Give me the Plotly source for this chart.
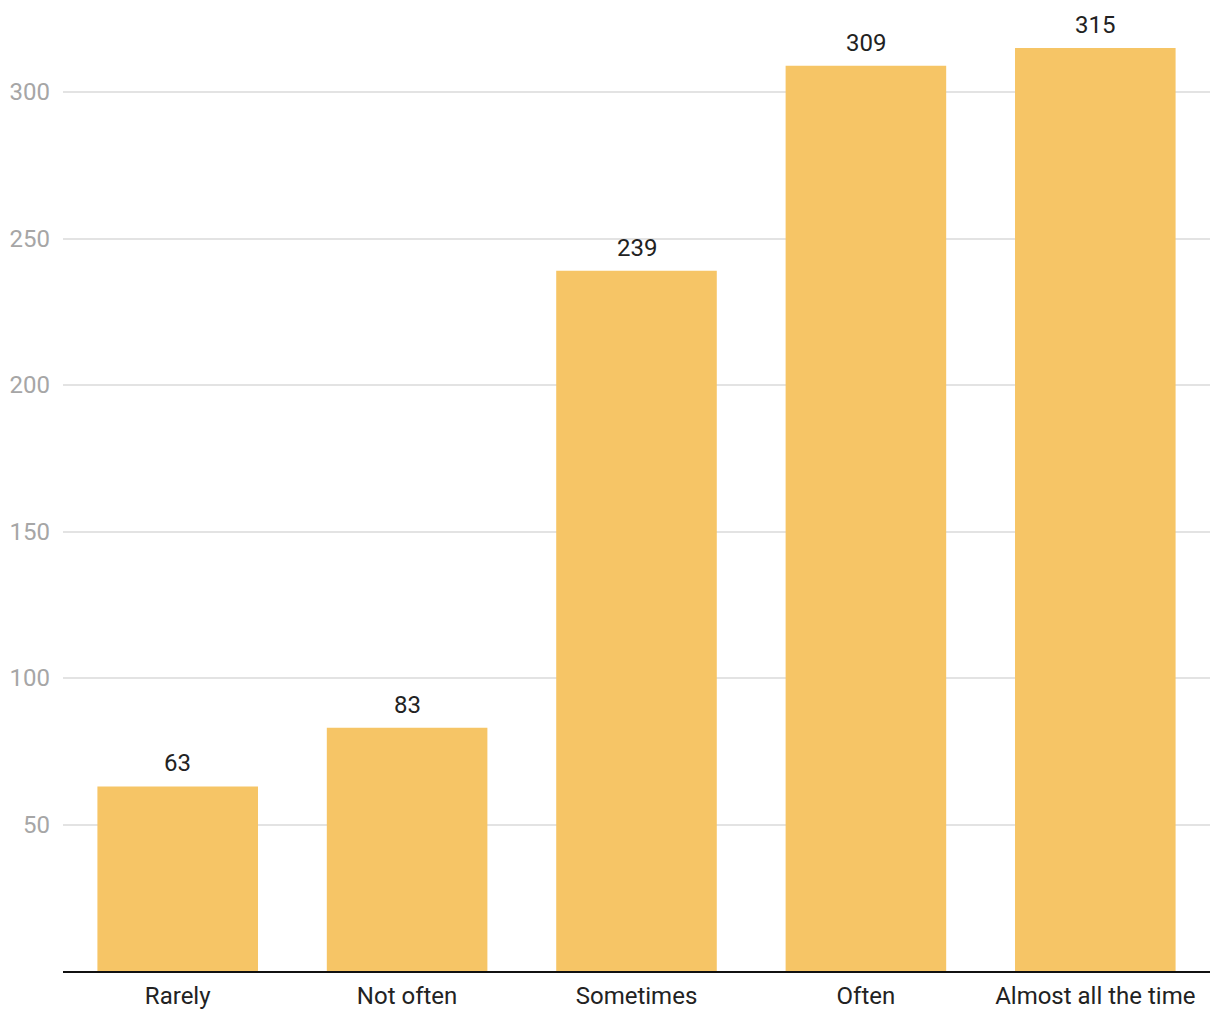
import plotly.graph_objects as go

categories = ["Rarely", "Not often", "Sometimes", "Often", "Almost all the time"]
values = [63, 83, 239, 309, 315]
ytick_vals = [50, 100, 150, 200, 250, 300]

fig = go.Figure()
fig.add_trace(go.Bar(
    x=categories, y=values,
    marker=dict(color="#F6C566", line=dict(width=0)),
    hoverinfo="skip",
))
for c, v in zip(categories, values):
    fig.add_annotation(x=c, y=v, text=str(v), showarrow=False,
                       yanchor="bottom", yshift=7,
                       font=dict(family="Roboto", size=24, color="#222222"))

fig.update_layout(
    width=1220, height=1020,
    margin=dict(l=63, r=10, t=0, b=49),
    paper_bgcolor="white", plot_bgcolor="white",
    bargap=0.3, showlegend=False,
    font=dict(family="Roboto"),
)
fig.update_xaxes(
    showline=True, linecolor="#111111", linewidth=2,
    ticks="", tickfont=dict(family="Roboto", size=24, color="#222222"),
    showgrid=False, ticklabelstandoff=2,
)
fig.update_yaxes(
    range=[0, 331.4], tickvals=ytick_vals,
    showgrid=True, gridcolor="#E3E3E3", gridwidth=1.5,
    zeroline=False, showline=False, ticks="",
    tickfont=dict(family="Roboto", size=24, color="#A6A6A6"),
    ticklabelstandoff=12,
)
fig.write_html("out.html")
